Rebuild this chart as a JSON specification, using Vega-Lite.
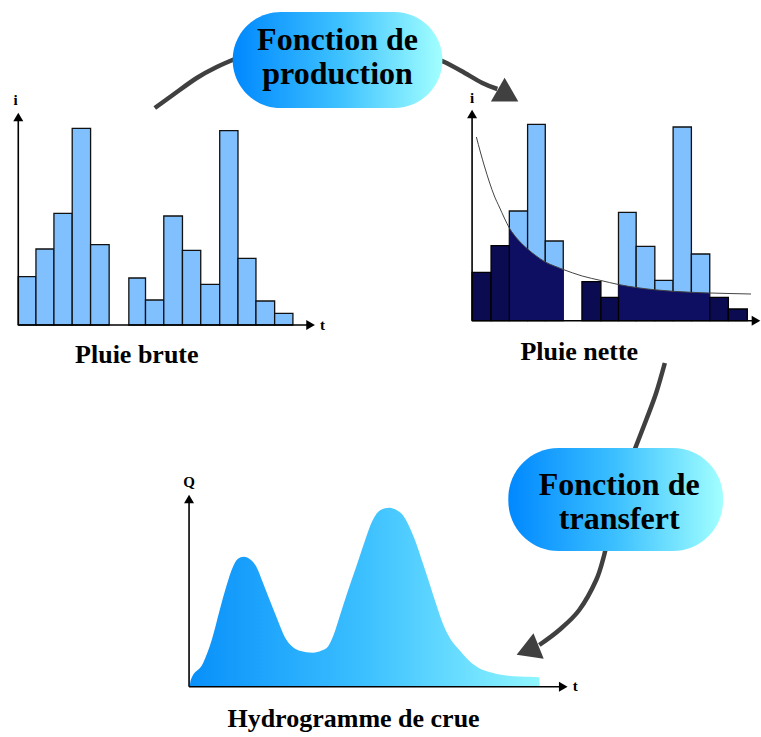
{
  "$schema": "https://vega.github.io/schema/vega-lite/v6.json",
  "width": 761,
  "height": 737,
  "autosize": {"type": "fit", "contains": "padding"},
  "padding": 0,
  "background": "white",
  "config": {"view": {"stroke": null}},
  "datasets": {
    "hydro": [
      {"x": 190, "y": 686.7}, {"x": 191, "y": 680}, {"x": 203.3, "y": 663.3}, {"x": 212, "y": 640}, {"x": 220, "y": 610},
      {"x": 227, "y": 585}, {"x": 233.3, "y": 566.7}, {"x": 238, "y": 559}, {"x": 244, "y": 556.7}, {"x": 250, "y": 559},
      {"x": 256.7, "y": 566.7}, {"x": 263, "y": 582}, {"x": 270, "y": 600}, {"x": 278, "y": 620}, {"x": 285, "y": 636.7},
      {"x": 292, "y": 646}, {"x": 300, "y": 650.7}, {"x": 313.3, "y": 652.7}, {"x": 322, "y": 650.5}, {"x": 328.3, "y": 646.7},
      {"x": 334, "y": 635}, {"x": 340, "y": 616.7}, {"x": 348, "y": 592}, {"x": 356.7, "y": 566.7}, {"x": 365, "y": 542},
      {"x": 373.3, "y": 520}, {"x": 381, "y": 510}, {"x": 390, "y": 507.7}, {"x": 397, "y": 510}, {"x": 403.3, "y": 515},
      {"x": 410, "y": 527}, {"x": 416.7, "y": 543.3}, {"x": 423, "y": 562}, {"x": 430, "y": 583.3}, {"x": 437, "y": 605},
      {"x": 443.3, "y": 623.3}, {"x": 451, "y": 639}, {"x": 460, "y": 650}, {"x": 470, "y": 661}, {"x": 480, "y": 668.3},
      {"x": 492, "y": 672.5}, {"x": 503.3, "y": 675}, {"x": 520, "y": 676.5}, {"x": 540, "y": 677.3}, {"x": 540.5, "y": 686.7}
    ],
    "bars": [
      {"x": 18.3, "x2": 36, "y": 276.7, "y2": 325},
      {"x": 36, "x2": 54, "y": 249, "y2": 325},
      {"x": 54, "x2": 72.3, "y": 213.3, "y2": 325},
      {"x": 72.3, "x2": 90.7, "y": 128.3, "y2": 325},
      {"x": 90.7, "x2": 109.3, "y": 244.7, "y2": 325},
      {"x": 129, "x2": 145.7, "y": 278, "y2": 325},
      {"x": 145.7, "x2": 164, "y": 300, "y2": 325},
      {"x": 164, "x2": 182.7, "y": 216, "y2": 325},
      {"x": 182.7, "x2": 201, "y": 250.3, "y2": 325},
      {"x": 201, "x2": 220, "y": 284.3, "y2": 325},
      {"x": 220, "x2": 238.3, "y": 130.7, "y2": 325},
      {"x": 238.3, "x2": 256.3, "y": 258.3, "y2": 325},
      {"x": 256.3, "x2": 275, "y": 301, "y2": 325},
      {"x": 275, "x2": 293.3, "y": 313.3, "y2": 325},
      {"x": 510, "x2": 528.3, "y": 211, "y2": 320.7},
      {"x": 528.3, "x2": 546, "y": 124.3, "y2": 320.7},
      {"x": 546, "x2": 564, "y": 241, "y2": 320.7},
      {"x": 619.3, "x2": 637, "y": 212.3, "y2": 320.7},
      {"x": 637, "x2": 655.7, "y": 246.3, "y2": 320.7},
      {"x": 655.7, "x2": 674, "y": 280.3, "y2": 320.7},
      {"x": 674, "x2": 692.3, "y": 127, "y2": 320.7},
      {"x": 692.3, "x2": 710.7, "y": 254, "y2": 320.7}
    ],
    "darkbars": [
      {"x": 472.7, "x2": 491.7, "y": 272.3, "y2": 320.7},
      {"x": 491.7, "x2": 510, "y": 245.7, "y2": 320.7},
      {"x": 582.7, "x2": 601.7, "y": 281.7, "y2": 320.7},
      {"x": 601.7, "x2": 619.3, "y": 297.3, "y2": 320.7},
      {"x": 710.7, "x2": 729.3, "y": 297.3, "y2": 320.7},
      {"x": 729.3, "x2": 748.3, "y": 309, "y2": 320.7}
    ],
    "darkarea": [
      {"seg": "a", "x": 510, "y": 228, "y2": 320.7}, {"seg": "a", "x": 519, "y": 240, "y2": 320.7},
      {"seg": "a", "x": 528.3, "y": 249, "y2": 320.7}, {"seg": "a", "x": 537, "y": 256, "y2": 320.7},
      {"seg": "a", "x": 546, "y": 262, "y2": 320.7}, {"seg": "a", "x": 555, "y": 266, "y2": 320.7},
      {"seg": "a", "x": 564, "y": 269.5, "y2": 320.7},
      {"seg": "b", "x": 619.3, "y": 284.5, "y2": 320.7}, {"seg": "b", "x": 637, "y": 287.5, "y2": 320.7},
      {"seg": "b", "x": 655.7, "y": 289.8, "y2": 320.7}, {"seg": "b", "x": 674, "y": 291.3, "y2": 320.7},
      {"seg": "b", "x": 692.3, "y": 292.3, "y2": 320.7}, {"seg": "b", "x": 710.7, "y": 293, "y2": 320.7}
    ],
    "curve": [
      {"x": 477, "y": 137}, {"x": 481, "y": 152}, {"x": 485, "y": 166}, {"x": 490, "y": 182}, {"x": 495, "y": 196},
      {"x": 500, "y": 207}, {"x": 505, "y": 218}, {"x": 510, "y": 228}, {"x": 519, "y": 240}, {"x": 528.3, "y": 249},
      {"x": 537, "y": 256}, {"x": 546, "y": 262}, {"x": 555, "y": 266}, {"x": 564, "y": 269.5}, {"x": 583, "y": 276},
      {"x": 601.7, "y": 280.5}, {"x": 619.3, "y": 284.5}, {"x": 637, "y": 287.5}, {"x": 655.7, "y": 289.8},
      {"x": 674, "y": 291.3}, {"x": 692.3, "y": 292.3}, {"x": 710.7, "y": 293}, {"x": 730, "y": 293.5}, {"x": 752, "y": 294}
    ],
    "axes": [
      {"x": 18.3, "y": 325, "x2": 18.3, "y2": 118},
      {"x": 18.3, "y": 325, "x2": 312, "y2": 325},
      {"x": 472.7, "y": 320.7, "x2": 472.7, "y2": 114},
      {"x": 472.7, "y": 320.7, "x2": 758, "y2": 320.7},
      {"x": 189.3, "y": 686.7, "x2": 189.3, "y2": 499},
      {"x": 189.3, "y": 686.7, "x2": 563, "y2": 686.7}
    ],
    "axisheads": [
      {"x": 18.3, "y": 117, "shape": "triangle-up"},
      {"x": 311, "y": 325, "shape": "triangle-right"},
      {"x": 472.7, "y": 114, "shape": "triangle-up"},
      {"x": 757, "y": 320.7, "shape": "triangle-right"},
      {"x": 189.3, "y": 499, "shape": "triangle-up"},
      {"x": 564, "y": 686.7, "shape": "triangle-right"}
    ],
    "arrows": [
      {"seg": "1a", "o": 1, "x": 155, "y": 108}, {"seg": "1a", "o": 2, "x": 173, "y": 95}, {"seg": "1a", "o": 3, "x": 197, "y": 78},
      {"seg": "1a", "o": 4, "x": 217, "y": 67}, {"seg": "1a", "o": 5, "x": 240, "y": 57},
      {"seg": "1b", "o": 1, "x": 436, "y": 59}, {"seg": "1b", "o": 2, "x": 445, "y": 62}, {"seg": "1b", "o": 3, "x": 462, "y": 71},
      {"seg": "1b", "o": 4, "x": 483, "y": 83}, {"seg": "1b", "o": 5, "x": 498, "y": 89},
      {"seg": "2a", "o": 1, "x": 665.7, "y": 363}, {"seg": "2a", "o": 2, "x": 657, "y": 393}, {"seg": "2a", "o": 3, "x": 647, "y": 420},
      {"seg": "2a", "o": 4, "x": 633, "y": 456},
      {"seg": "2b", "o": 1, "x": 607, "y": 545}, {"seg": "2b", "o": 2, "x": 605, "y": 555}, {"seg": "2b", "o": 3, "x": 597, "y": 580},
      {"seg": "2b", "o": 4, "x": 580, "y": 610}, {"seg": "2b", "o": 5, "x": 560, "y": 630}, {"seg": "2b", "o": 6, "x": 540, "y": 645}
    ],
    "arrowheads": [
      {"x": 508.7, "y": 95.5, "ang": 30},
      {"x": 528.3, "y": 650.4, "ang": 158}
    ],
    "box1": [{"x": 233, "x2": 443, "y": 12, "y2": 108}],
    "box2": [{"x": 509, "x2": 724, "y": 448, "y2": 551}],
    "bigtext": [
      {"x": 338, "y": 50, "label": "Fonction de"},
      {"x": 338, "y": 84, "label": "production"},
      {"x": 620, "y": 495, "label": "Fonction de"},
      {"x": 620, "y": 529, "label": "transfert"}
    ],
    "labels": [
      {"x": 137, "y": 363, "label": "Pluie brute"},
      {"x": 580, "y": 360, "label": "Pluie nette"},
      {"x": 354, "y": 727, "label": "Hydrogramme de crue"}
    ],
    "axislabels": [
      {"x": 15.7, "y": 105, "label": "i"},
      {"x": 323, "y": 330, "label": "t"},
      {"x": 472.7, "y": 103, "label": "i"},
      {"x": 189.3, "y": 487, "label": "Q"},
      {"x": 576, "y": 691, "label": "t"}
    ]
  },
  "encoding": {
    "x": {"field": "x", "type": "quantitative", "scale": {"domain": [0, 761], "nice": false, "zero": false}, "axis": null},
    "y": {"field": "y", "type": "quantitative", "scale": {"domain": [0, 737], "reverse": true, "nice": false, "zero": false}, "axis": null}
  },
  "layer": [
    {
      "data": {"name": "hydro"},
      "mark": {"type": "area", "interpolate": "monotone", "color": {"gradient": "linear", "x1": 0, "y1": 0, "x2": 1, "y2": 0, "stops": [{"offset": 0, "color": "#0890fa"}, {"offset": 0.5, "color": "#3cc0ff"}, {"offset": 1, "color": "#90f6ff"}]}},
      "encoding": {"y2": {"datum": 686.7}}
    },
    {
      "data": {"name": "bars"},
      "mark": {"type": "rect", "fill": "#80c0ff", "stroke": "#111", "strokeWidth": 1.3},
      "encoding": {"x2": {"field": "x2"}, "y2": {"field": "y2"}}
    },
    {
      "data": {"name": "darkarea"},
      "mark": {"type": "area", "interpolate": "monotone", "color": "#0e0e62"},
      "encoding": {"y2": {"field": "y2"}, "detail": {"field": "seg"}}
    },
    {
      "data": {"name": "darkbars"},
      "mark": {"type": "rect", "fill": "#0b0b52", "stroke": "#000", "strokeWidth": 1.3},
      "encoding": {"x2": {"field": "x2"}, "y2": {"field": "y2"}}
    },
    {
      "data": {"name": "curve"},
      "mark": {"type": "line", "interpolate": "monotone", "color": "#444", "strokeWidth": 1},
      "encoding": {}
    },
    {
      "data": {"name": "axes"},
      "mark": {"type": "rule", "color": "#000", "strokeWidth": 1.6},
      "encoding": {"x2": {"field": "x2"}, "y2": {"field": "y2"}}
    },
    {
      "data": {"name": "axisheads"},
      "mark": {"type": "point", "filled": true, "color": "#000", "opacity": 1, "size": 100},
      "encoding": {"shape": {"field": "shape", "type": "nominal", "scale": null}}
    },
    {
      "data": {"name": "arrows"},
      "mark": {"type": "line", "interpolate": "cardinal", "color": "#404040", "strokeWidth": 4.5, "strokeCap": "butt"},
      "encoding": {"order": {"field": "o", "type": "quantitative"}, "detail": {"field": "seg"}}
    },
    {
      "data": {"name": "arrowheads"},
      "mark": {"type": "point", "shape": "triangle-right", "filled": true, "color": "#404040", "opacity": 1, "size": 750},
      "encoding": {"angle": {"field": "ang", "type": "quantitative", "scale": null}}
    },
    {
      "data": {"name": "box1"},
      "mark": {"type": "rect", "cornerRadius": 48, "color": {"gradient": "linear", "x1": 0, "y1": 0, "x2": 1, "y2": 0, "stops": [{"offset": 0, "color": "#0088ff"}, {"offset": 0.5, "color": "#3cc0ff"}, {"offset": 1, "color": "#a2ffff"}]}},
      "encoding": {"x2": {"field": "x2"}, "y2": {"field": "y2"}}
    },
    {
      "data": {"name": "box2"},
      "mark": {"type": "rect", "cornerRadius": 50, "color": {"gradient": "linear", "x1": 0, "y1": 0, "x2": 1, "y2": 0, "stops": [{"offset": 0, "color": "#0088ff"}, {"offset": 0.5, "color": "#3cc0ff"}, {"offset": 1, "color": "#a2ffff"}]}},
      "encoding": {"x2": {"field": "x2"}, "y2": {"field": "y2"}}
    },
    {
      "data": {"name": "bigtext"},
      "mark": {"type": "text", "font": "Liberation Serif", "fontWeight": "bold", "fontSize": 32, "color": "#000", "align": "center", "baseline": "alphabetic"},
      "encoding": {"text": {"field": "label"}}
    },
    {
      "data": {"name": "labels"},
      "mark": {"type": "text", "font": "Liberation Serif", "fontWeight": "bold", "fontSize": 26, "color": "#000", "align": "center", "baseline": "alphabetic"},
      "encoding": {"text": {"field": "label"}}
    },
    {
      "data": {"name": "axislabels"},
      "mark": {"type": "text", "font": "Liberation Serif", "fontWeight": "bold", "fontSize": 15, "color": "#000", "align": "center", "baseline": "alphabetic"},
      "encoding": {"text": {"field": "label"}}
    }
  ]
}
